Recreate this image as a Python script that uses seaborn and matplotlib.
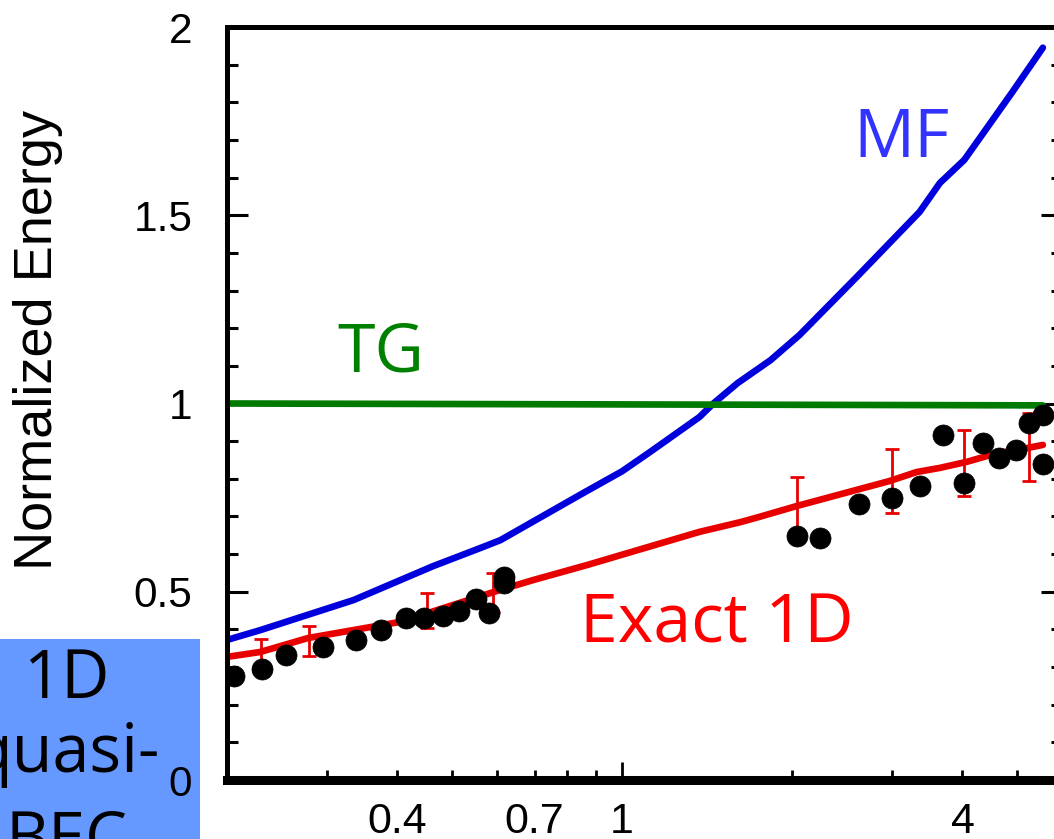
import matplotlib
matplotlib.use("Agg")
import matplotlib.pyplot as plt
import seaborn as sns
import pandas as pd
from matplotlib.ticker import FixedLocator, NullFormatter
from matplotlib.patches import Rectangle

# ---------------- data ----------------
mf_x = [0.2, 0.229, 0.335, 0.463, 0.561, 0.609, 0.853, 1.0, 1.12, 1.37, 1.45, 1.6, 1.83,
        2.06, 2.6, 3.36, 3.65, 4.03, 4.42, 4.9, 5.55]
mf_y = [0.372, 0.398, 0.478, 0.568, 0.616, 0.637, 0.762, 0.82, 0.871, 0.964, 1.0, 1.054, 1.115,
        1.182, 1.336, 1.509, 1.586, 1.647, 1.732, 1.827, 1.945]

tg_x = [0.2, 5.55]
tg_y = [1.0, 0.995]

ex_x = [0.2, 0.229, 0.278, 0.405, 0.609, 0.696, 0.867, 1.37, 1.62, 1.75, 2.04, 2.97,
        3.32, 3.65, 4.07, 4.6, 4.98, 5.55]
ex_y = [0.327, 0.34, 0.377, 0.42, 0.505, 0.531, 0.571, 0.659, 0.685, 0.699, 0.728, 0.794,
        0.818, 0.829, 0.845, 0.868, 0.876, 0.89]

err_x = [0.230, 0.279, 0.452, 0.592, 2.04, 3.0, 4.02, 5.24]
err_y = [0.34, 0.37, 0.45, 0.498, 0.728, 0.794, 0.842, 0.884]
err_e = [0.034, 0.04, 0.047, 0.052, 0.077, 0.085, 0.088, 0.09]

pts_x = [0.2055, 0.231, 0.254, 0.296, 0.338, 0.374, 0.415, 0.447, 0.483, 0.515, 0.552,
         0.582, 0.617, 0.619, 2.04, 2.24, 2.62, 3.0, 3.36, 3.69, 4.02, 4.35, 4.64, 4.97,
         5.24, 5.55, 5.55]
pts_y = [0.276, 0.295, 0.332, 0.353, 0.372, 0.398, 0.43, 0.43, 0.436, 0.449, 0.481,
         0.444, 0.539, 0.523, 0.648, 0.643, 0.733, 0.749, 0.781, 0.916, 0.79, 0.895, 0.855,
         0.876, 0.948, 0.969, 0.839]

y_ticks = [0, 0.5, 1, 1.5, 2]
y_tick_labels = ["0", "0.5", "1", "1.5", "2"]
y_minor = [0.1, 0.2, 0.3, 0.4, 0.6, 0.7, 0.8, 0.9, 1.1, 1.2, 1.3, 1.4, 1.6, 1.7, 1.8, 1.9]
x_ticks = [0.4, 0.7, 1, 4]
x_tick_labels = ["0.4", "0.7", "1", "4"]
x_minor = [0.3, 0.5, 0.6, 0.8, 0.9, 2, 3, 5]

# ---------------- style ----------------
sns.set_style("ticks")
plt.rcParams['font.family'] = ['Liberation Sans', 'DejaVu Sans']
plt.rcParams['text.color'] = 'black'
plt.rcParams['axes.labelcolor'] = 'black'
plt.rcParams['xtick.color'] = 'black'
plt.rcParams['ytick.color'] = 'black'
comic = ['Open Sans', 'DejaVu Sans']

W, H = 1054, 839
fig = plt.figure(figsize=(W / 100, H / 100), dpi=100)
ax = fig.add_axes([227 / W, (H - 780) / H, 835 / W, 753 / H])
ax.set_xscale('log')

sns.lineplot(x=mf_x, y=mf_y, ax=ax, color="#0000dd", lw=4.8, estimator=None, sort=False)
sns.lineplot(x=tg_x, y=tg_y, ax=ax, color="#007a00", lw=4.8, estimator=None, sort=False)
sns.lineplot(x=ex_x, y=ex_y, ax=ax, color="#e80000", lw=4.8, estimator=None, sort=False)
ax.errorbar(err_x, err_y, yerr=err_e, fmt='none', ecolor="#e80000", elinewidth=2,
            capsize=5, capthick=2, zorder=3)
sns.scatterplot(x=pts_x, y=pts_y, ax=ax, color="black", s=230, edgecolor="black",
                linewidth=0.5, zorder=4)

ax.set_xlim(0.2, 6)
ax.set_ylim(0, 2)

# spines
for side in ['left', 'top', 'right']:
    ax.spines[side].set_linewidth(3.6)
ax.spines['bottom'].set_linewidth(6.5)
for s in ax.spines.values():
    s.set_color('black')
    s.set_zorder(5)

# ticks
ax.set_yticks(y_ticks)
ax.set_yticklabels(y_tick_labels)
ax.yaxis.set_minor_locator(FixedLocator(y_minor))
ax.yaxis.set_minor_formatter(NullFormatter())
ax.tick_params(axis='y', which='major', direction='in', length=15, width=2.2,
               left=True, right=True, labelsize=30.5, pad=25, colors='black')
ax.tick_params(axis='y', which='minor', direction='in', length=8, width=2.2,
               left=True, right=True, colors='black')

ax.set_xticks(x_ticks)
ax.set_xticklabels(x_tick_labels)
ax.xaxis.set_minor_locator(FixedLocator(x_minor))
ax.xaxis.set_minor_formatter(NullFormatter())
ax.tick_params(axis='x', which='both', direction='in', length=7, width=2,
               bottom=True, top=False, labelsize=31, pad=16, colors='black')
for t, v in zip(ax.xaxis.get_major_ticks(), x_ticks):
    if v == 1:
        t.tick1line.set_markersize(13)

ax.set_xlabel("")
ax.set_ylabel("Normalized Energy", fontsize=39, color='black')
ax.yaxis.label.set_va('center')
ax.yaxis.set_label_coords((38 - 227) / 835, (780 - 340) / 753)

# curve labels
ax.text(3.12, 1.655, "MF", color="#3333ff", fontsize=49, family=comic, ha='center', va='baseline')
ax.text(0.375, 1.084, "TG", color="#008000", fontsize=49, family=comic, ha='center', va='baseline')
ax.text(1.47, 0.3665, "Exact 1D", color="#ff0000", fontsize=49, family=comic, ha='center',
        va='baseline')

# blue box in lower-left corner
fig.add_artist(Rectangle((0, 0), 200 / W, (H - 639) / H, transform=fig.transFigure,
                         facecolor="#6699ff", edgecolor="none", zorder=-1))
for txt, py in [("1D", 698), ("quasi-", 772), ("BEC", 859)]:
    fig.text(66 / W, 1 - py / H, txt, color="black", fontsize=48, family=comic,
             ha='center', va='baseline')

fig.savefig("out.png", dpi=100)
